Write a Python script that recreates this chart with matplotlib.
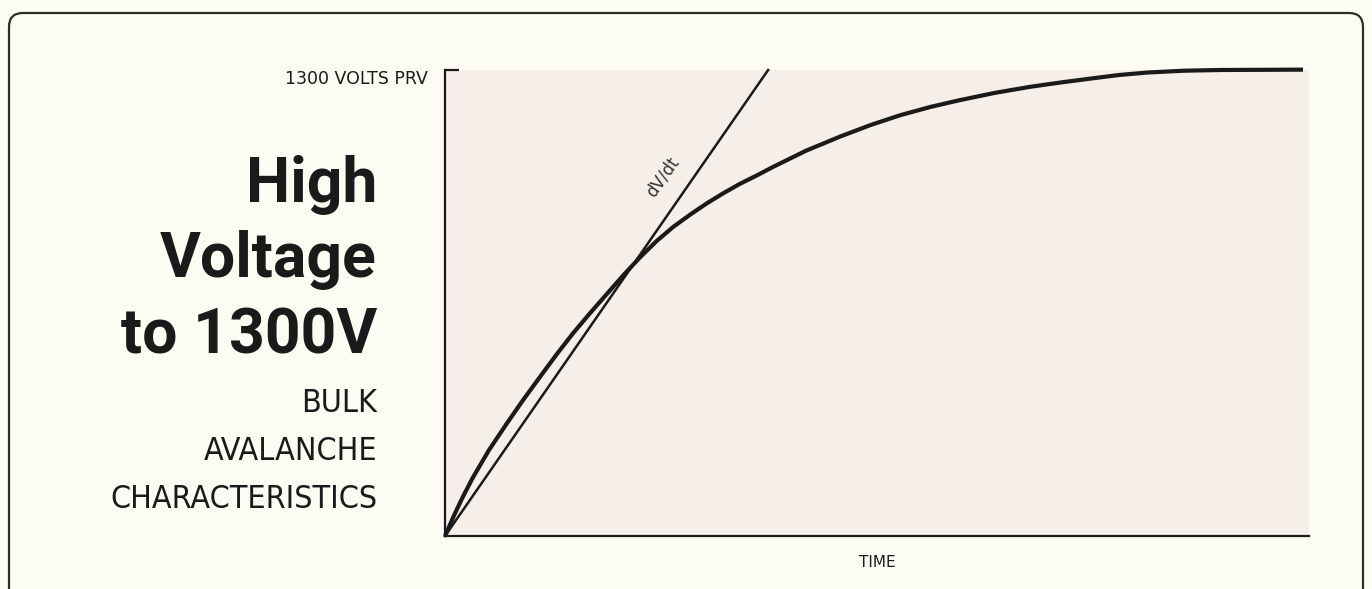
import matplotlib
matplotlib.use("Agg")
import matplotlib.pyplot as plt
from matplotlib.patches import FancyBboxPatch

# curve (time in arbitrary units, volts)
time_pts = [0, 1.0, 2.0, 3.2, 5.1, 7.1, 9.0, 11.0, 12.9, 14.8, 16.8, 18.8,
            20.7, 22.6, 24.5, 26.4, 28.4, 30.3, 32.2, 34.1, 36.1, 38.0,
            41.8, 45.7, 49.2, 52.7, 56.2, 59.6, 63.6, 67.7, 71.2, 74.7,
            78.0, 81.3, 85.5, 89.7, 99.3]
volts_pts = [0, 55, 106, 162, 240, 312, 378, 444, 506, 565, 622, 677,
             729, 778, 823, 862, 897, 928, 956, 982, 1006, 1030,
             1075, 1114, 1146, 1174, 1197, 1216, 1236, 1253, 1265, 1276,
             1286, 1293, 1298, 1300, 1301]

# dV/dt line
dvdt_time = [0, 37.4]
dvdt_volts = [0, 1300]

y_ticks = [1300]
y_tick_labels = ["1300 VOLTS PRV"]

title_lines = ["High", "Voltage", "to 1300V"]
sub_lines = ["BULK", "AVALANCHE", "CHARACTERISTICS"]

paper = "#fcfcf3"
ink = "#1a1a1a"

fig = plt.figure(figsize=(13.72, 5.89), dpi=100, facecolor=paper)

# outer frame with rounded top corners, open at the bottom
frame = FancyBboxPatch((0.09, -1.0), 13.54, 5.89 - 0.13 + 1.0,
                       boxstyle="round,pad=0,rounding_size=0.14",
                       transform=fig.dpi_scale_trans, fill=False,
                       edgecolor="#2e2e28", linewidth=1.6)
fig.patches.append(frame)

ax = fig.add_axes([445 / 1372, 53 / 589, (1309 - 445) / 1372, (536 - 70) / 589])
ax.set_facecolor("#f5eee9")
ax.set_xlim(0, 100)
ax.set_ylim(0, 1300)

ax.plot(time_pts, volts_pts, color=ink, lw=3.0, solid_joinstyle="round",
        solid_capstyle="butt", clip_on=False, zorder=3)
ax.plot(dvdt_time, dvdt_volts, color=ink, lw=1.8, clip_on=False, zorder=3)
ax.text(25.2, 1000, "dV/dt", rotation=55, rotation_mode="anchor",
        ha="center", va="center", fontsize=12, color="#333333")

for side in ["top", "right"]:
    ax.spines[side].set_visible(False)
for side in ["left", "bottom"]:
    ax.spines[side].set_linewidth(1.6)
    ax.spines[side].set_color(ink)

ax.set_xticks([])
ax.set_yticks(y_ticks)
ax.set_yticklabels(y_tick_labels, fontsize=12.5, color=ink)
ax.tick_params(axis="y", direction="in", length=10, width=1.6, pad=12, colors=ink)
for lab in ax.get_yticklabels():
    lab.set_va("top")
ax.set_xlabel("TIME", fontsize=11, color=ink, labelpad=14)

# left hand heading, positions in figure pixels from top
def fy(px):
    return 1 - px / 589

for txt, base in zip(title_lines, [202, 277, 353]):
    fig.text(377 / 1372, fy(base), txt, ha="right", va="baseline",
             fontsize=45, fontweight="bold", family=["Roboto", "DejaVu Sans"],
             color=ink)

for txt, base in zip(sub_lines, [412, 460, 508]):
    fig.text(377 / 1372, fy(base), txt, ha="right", va="baseline",
             fontsize=23, fontstretch="condensed", fontweight="light",
             family=["DejaVu Sans"], color=ink)

fig.savefig("out.png", dpi=100, facecolor=paper)
